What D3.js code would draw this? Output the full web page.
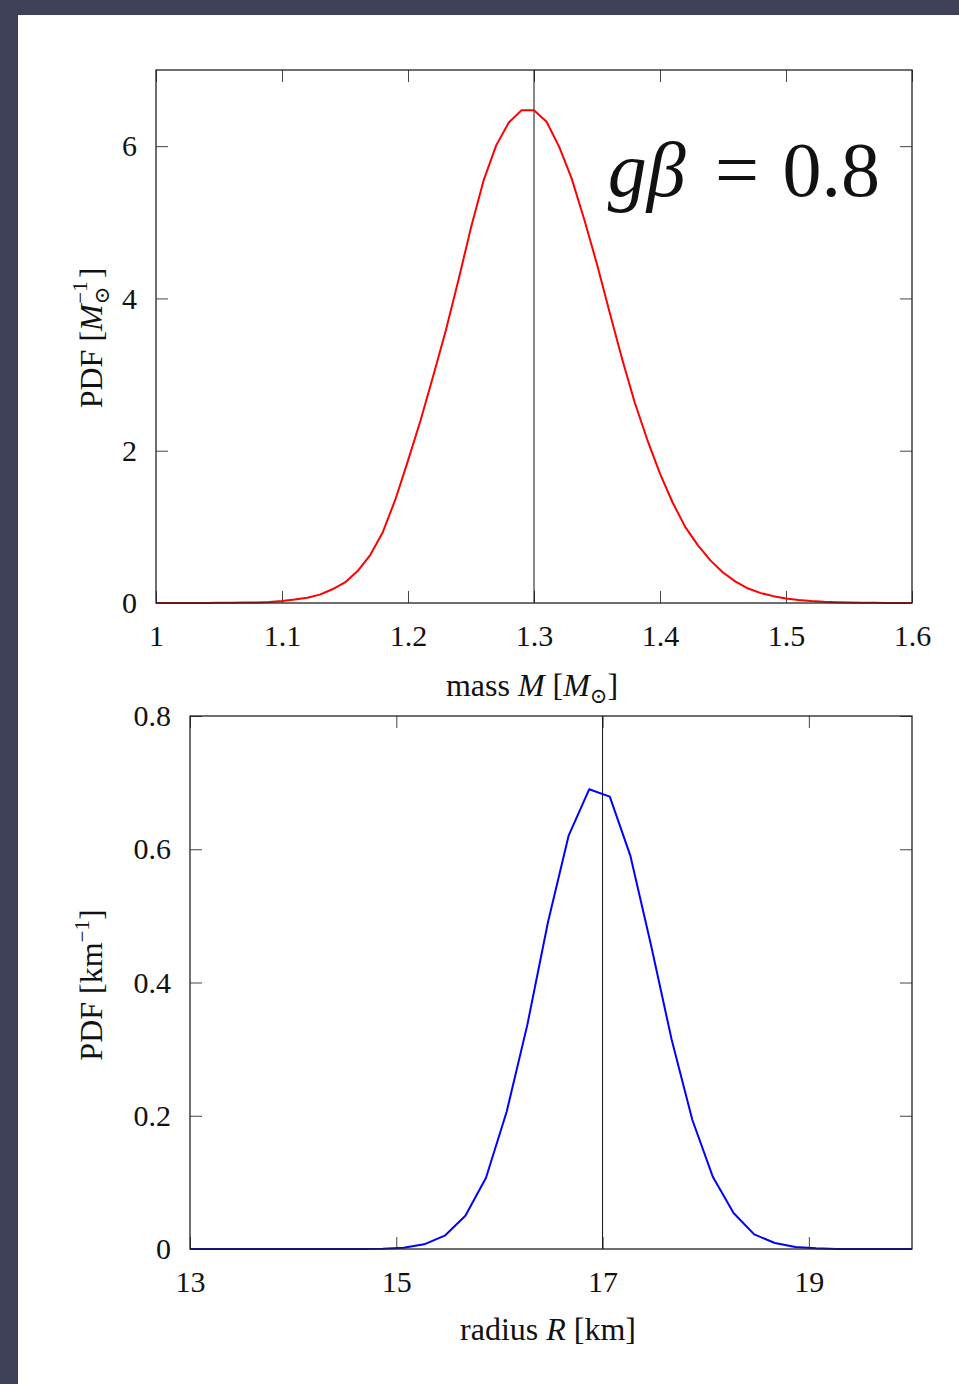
<!DOCTYPE html>
<html>
<head>
<meta charset="utf-8">
<script src="https://cdn.jsdelivr.net/npm/d3@7"></script>
<style>
  body { margin: 0; background: #fff; }
  text { font-family: "Liberation Serif", "DejaVu Serif", serif; fill: #111; }
</style>
</head>
<body>
<div id="chart"></div>
<script>
// mass PDF (top panel)
var massGrid = [1.00, 1.01, 1.02, 1.03, 1.04, 1.05, 1.06, 1.07, 1.08, 1.09,
                1.10, 1.11, 1.12, 1.13, 1.14, 1.15, 1.16, 1.17, 1.18, 1.19,
                1.20, 1.21, 1.22, 1.23, 1.24, 1.25, 1.26, 1.27, 1.28, 1.29,
                1.30, 1.31, 1.32, 1.33, 1.34, 1.35, 1.36, 1.37, 1.38, 1.39,
                1.40, 1.41, 1.42, 1.43, 1.44, 1.45, 1.46, 1.47, 1.48, 1.49,
                1.50, 1.51, 1.52, 1.53, 1.54, 1.55, 1.56, 1.57, 1.58, 1.59, 1.60];
var massPdf = [0, 0, 0, 0.0005, 0.001, 0.002, 0.003, 0.005, 0.008, 0.012,
               0.025, 0.045, 0.07, 0.11, 0.18, 0.27, 0.42, 0.63, 0.93, 1.36,
               1.87, 2.40, 2.98, 3.58, 4.24, 4.93, 5.55, 6.01, 6.31, 6.47,
               6.47, 6.32, 5.99, 5.57, 5.03, 4.45, 3.82, 3.20, 2.63, 2.14,
               1.70, 1.32, 1.00, 0.76, 0.56, 0.40, 0.28, 0.19, 0.13, 0.09,
               0.06, 0.04, 0.025, 0.015, 0.01, 0.006, 0.004, 0.002, 0.001, 0.0005, 0];
var massTicks = [1, 1.1, 1.2, 1.3, 1.4, 1.5, 1.6];
var massPdfTicks = [0, 2, 4, 6];
var massRef = 1.3;

// radius PDF (bottom panel)
var radiusGrid = [13.0, 13.07, 13.27, 13.47, 13.67, 13.87, 14.07, 14.27, 14.47, 14.67,
                  14.87, 15.07, 15.27, 15.47, 15.67, 15.87, 16.07, 16.27, 16.47, 16.67,
                  16.87, 17.07, 17.27, 17.47, 17.67, 17.87, 18.07, 18.27, 18.47, 18.67,
                  18.87, 19.07, 19.27, 19.47, 19.67, 19.87, 20.0];
var radiusPdf = [0, 0, 0, 0, 0, 0, 0, 0, 0, 0,
                 0.0005, 0.002, 0.007, 0.02, 0.05, 0.107, 0.206, 0.336, 0.49, 0.62,
                 0.69, 0.679, 0.59, 0.456, 0.314, 0.194, 0.108, 0.054, 0.022, 0.009,
                 0.003, 0.001, 0, 0, 0, 0, 0];
var radiusTicks = [13, 15, 17, 19];
var radiusPdfTicks = [0, 0.2, 0.4, 0.6, 0.8];
var radiusRef = 17;

var W = 959, H = 1384;

var svg = d3.select("#chart")
  .append("svg")
    .attr("width", W)
    .attr("height", H);

svg.append("rect").attr("width", W).attr("height", H).attr("fill", "#fff");
// dark page border
svg.append("rect").attr("x", 0).attr("y", 0).attr("width", W).attr("height", 15).attr("fill", "#3f4159");
svg.append("rect").attr("x", 0).attr("y", 0).attr("width", 18).attr("height", H).attr("fill", "#3f4159");

function panel(opt) {
  var g = svg.append("g").attr("transform", "translate(" + opt.left + "," + opt.top + ")");

  var x = d3.scaleLinear().domain(opt.xDomain).range([0, opt.width]);
  var y = d3.scaleLinear().domain(opt.yDomain).range([opt.height, 0]);

  // inward ticks on all four sides
  var bottom = g.append("g")
      .attr("transform", "translate(0," + opt.height + ")")
      .call(d3.axisBottom(x).tickValues(opt.xTicks).tickSizeInner(-12).tickSizeOuter(0).tickPadding(20)
              .tickFormat(d3.format("")));
  var top = g.append("g")
      .call(d3.axisTop(x).tickValues(opt.xTicks).tickSizeInner(-12).tickSizeOuter(0).tickFormat(""));
  var left = g.append("g")
      .call(d3.axisLeft(y).tickValues(opt.yTicks).tickSizeInner(-12).tickSizeOuter(0).tickPadding(19)
              .tickFormat(d3.format("")));
  var right = g.append("g")
      .attr("transform", "translate(" + opt.width + ",0)")
      .call(d3.axisRight(y).tickValues(opt.yTicks).tickSizeInner(-12).tickSizeOuter(0).tickFormat(""));

  [bottom, top, left, right].forEach(function(a) {
    a.select(".domain").remove();
    a.selectAll(".tick line").attr("stroke", "#444").attr("stroke-width", 1);
    a.selectAll(".tick text")
      .attr("font-size", "30px")
      .attr("fill", "#111");
  });
  bottom.selectAll(".tick text").attr("dy", "0.75em");

  // reference line
  g.append("line")
    .attr("x1", x(opt.ref)).attr("x2", x(opt.ref))
    .attr("y1", 0).attr("y2", opt.height)
    .attr("stroke", "#111")
    .attr("stroke-width", 1);

  // curve
  var pts = opt.xs.map(function(d, i) { return [d, opt.ys[i]]; });
  g.append("path")
    .datum(pts)
    .attr("fill", "none")
    .attr("stroke", opt.color)
    .attr("stroke-width", 2)
    .attr("stroke-linejoin", "round")
    .attr("d", d3.line().x(function(d) { return x(d[0]); }).y(function(d) { return y(d[1]); }));

  // frame
  g.append("rect")
    .attr("width", opt.width).attr("height", opt.height)
    .attr("fill", "none")
    .attr("stroke", "#222")
    .attr("stroke-width", 1.3);

  return g;
}

panel({left: 156, top: 70, width: 756, height: 533,
       xDomain: [1, 1.6], yDomain: [0, 7],
       xTicks: massTicks, yTicks: massPdfTicks,
       xs: massGrid, ys: massPdf, ref: massRef, color: "#ff0000"});

panel({left: 190, top: 716, width: 722, height: 533,
       xDomain: [13, 20], yDomain: [0, 0.8],
       xTicks: radiusTicks, yTicks: radiusPdfTicks,
       xs: radiusGrid, ys: radiusPdf, ref: radiusRef, color: "#0000ff"});

// axis titles
var t1 = svg.append("text").attr("x", 532).attr("y", 696).attr("text-anchor", "middle").attr("font-size", "32px");
t1.append("tspan").text("mass ");
t1.append("tspan").attr("font-style", "italic").text("M");
t1.append("tspan").text(" [");
t1.append("tspan").attr("font-style", "italic").text("M");
t1.append("tspan").attr("font-size", "21px").attr("dy", 7).text("⊙");
t1.append("tspan").attr("dy", -7).text("]");

var t2 = svg.append("text").attr("x", 548).attr("y", 1340).attr("text-anchor", "middle").attr("font-size", "32px");
t2.append("tspan").text("radius ");
t2.append("tspan").attr("font-style", "italic").text("R");
t2.append("tspan").text(" [km]");

var t3 = svg.append("text").attr("transform", "translate(102,338) rotate(-90)").attr("text-anchor", "middle").attr("font-size", "32px");
t3.append("tspan").text("PDF [");
t3.append("tspan").attr("font-style", "italic").text("M");
t3.append("tspan").attr("font-size", "21px").attr("dy", 7).text("⊙");
t3.append("tspan").attr("font-size", "21px").attr("dx", -17).attr("dy", -22).text("−1");
t3.append("tspan").attr("dy", 15).attr("dx", 3).text("]");

var t4 = svg.append("text").attr("transform", "translate(102,985) rotate(-90)").attr("text-anchor", "middle").attr("font-size", "32px");
t4.append("tspan").text("PDF [km");
t4.append("tspan").attr("font-size", "21px").attr("dy", -13).text("−1");
t4.append("tspan").attr("dy", 13).text("]");

// annotation
var ann = svg.append("text").attr("x", 880).attr("y", 196).attr("text-anchor", "end").attr("font-size", "78px");
ann.append("tspan").attr("font-style", "italic").text("gβ");
ann.append("tspan").attr("dx", 10).text(" = ");
ann.append("tspan").attr("dx", 4).text("0.8");
</script>
</body>
</html>
